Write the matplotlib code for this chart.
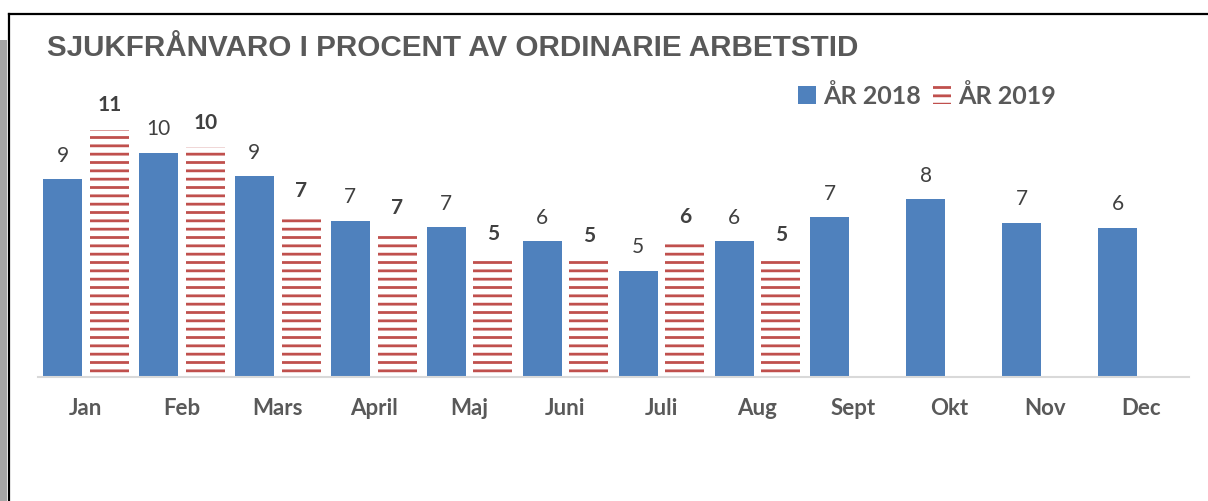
import matplotlib
matplotlib.use('Agg')
import matplotlib.pyplot as plt
import numpy as np
from matplotlib.patches import Rectangle, Patch
from matplotlib.lines import Line2D

# Data
months = ['Jan', 'Feb', 'Mars', 'April', 'Maj', 'Juni', 'Juli', 'Aug',
          'Sept', 'Okt', 'Nov', 'Dec']
values_2018 = [8.73, 9.91, 8.87, 6.90, 6.61, 5.99, 4.69, 5.99, 7.05, 7.85, 6.80, 6.58]
values_2019 = [10.92, 10.15, 7.14, 6.39, 5.24, 5.16, 6.00, 5.19]
labels_2018 = ['9', '10', '9', '7', '7', '6', '5', '6', '7', '8', '7', '6']
labels_2019 = ['11', '10', '7', '7', '5', '5', '6', '5']

blue = '#4F81BD'
red = '#C0504D'
gray = '#595959'
dark = '#404040'

plt.rcParams['hatch.linewidth'] = 2.0

W, H = 1208, 501
fig = plt.figure(figsize=(W / 100, H / 100), dpi=100)

# axes: baseline at y=376.7px, x from 38 to 1189px
x0, x1 = 38, 1189
base_y = 376.7
scale = 22.6  # px per unit
ymax = 12
top_y = base_y - ymax * scale
ax = fig.add_axes([x0 / W, 1 - base_y / H, (x1 - x0) / W, (base_y - top_y) / H])

x = np.arange(len(months))
bw = 0.407
off = 0.2435
b18 = ax.bar(x - off, values_2018, bw, color=blue, linewidth=0)
x19 = x[:len(values_2019)]
b19 = ax.bar(x19 + off, values_2019, bw, color='white', edgecolor=red,
             hatch='--', linewidth=0)

for xi, v, lab in zip(x - off, values_2018, labels_2018):
    ax.annotate(lab, (xi, v), xytext=(0, 12.7), textcoords='offset points',
                ha='center', va='baseline', fontsize=15, color=dark,
                family='Lato')
for xi, v, lab in zip(x19 + off, values_2019, labels_2019):
    ax.annotate(lab, (xi, v), xytext=(0, 13.3), textcoords='offset points',
                ha='center', va='baseline', fontsize=15, color=dark,
                family='Lato', fontweight='bold')

ax.set_xlim(-0.5, len(months) - 0.5)
ax.set_ylim(0, ymax)
ax.set_yticks([])
ax.set_xticks(x)
ax.set_xticklabels(months, fontsize=16, fontweight='bold', color=gray,
                   family='Lato')
ax.tick_params(axis='x', length=0, pad=15.5)
for s in ['top', 'right', 'left']:
    ax.spines[s].set_visible(False)
ax.spines['bottom'].set_color('#D9D9D9')
ax.spines['bottom'].set_linewidth(1.5)
ax.patch.set_alpha(0)

# Title
fig.text(47 / W, 1 - 56 / H, 'SJUKFRÅNVARO I PROCENT AV ORDINARIE ARBETSTID',
         ha='left', va='baseline', fontsize=21.3, fontweight='bold', color=gray,
         family='Liberation Sans')

# Legend
handles = [Patch(facecolor=blue, linewidth=0),
           Patch(facecolor='white', edgecolor=red, hatch='--', linewidth=0)]
fig.legend(handles, ['ÅR 2018', 'ÅR 2019'], ncol=2, frameon=False,
           loc='center left', bbox_to_anchor=(798 / W, 1 - 96 / H),
           prop={'family': 'Lato', 'weight': 'bold', 'size': 18},
           labelcolor=gray, handlelength=0.7, handleheight=0.7,
           handletextpad=0.3, columnspacing=0.5, borderpad=0,
           borderaxespad=0)

# Frame / shadow
fig.add_artist(Rectangle((0, 0), 7 / W, 1 - 40 / H, transform=fig.transFigure,
                         facecolor='#A6A6A6', edgecolor='none'))
fig.add_artist(Line2D([8.5 / W, 8.5 / W], [0, 1 - 13.5 / H],
                      transform=fig.transFigure, color='black', linewidth=1.6))
fig.add_artist(Line2D([8.5 / W, 1], [1 - 13.5 / H, 1 - 13.5 / H],
                      transform=fig.transFigure, color='black', linewidth=1.6))

fig.savefig('out.png', dpi=100)
